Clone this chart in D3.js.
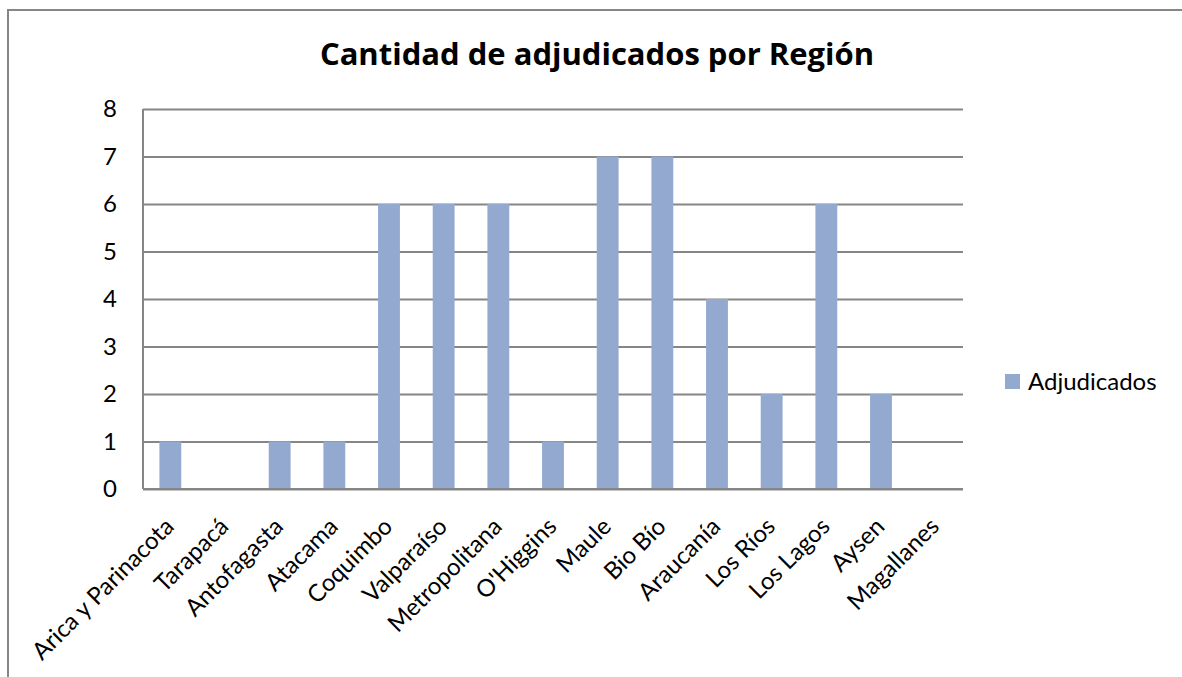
<!DOCTYPE html>
<html>
<head>
<meta charset="utf-8">
<script src="https://cdn.jsdelivr.net/npm/d3@7"></script>
<style>
  body { margin: 0; background: #fff; }
  svg { display: block; }
</style>
</head>
<body>
<div id="container"></div>
<script>
// regions and their counts
let regions = ["Arica y Parinacota", "Tarapacá", "Antofagasta", "Atacama", "Coquimbo",
  "Valparaíso", "Metropolitana", "O'Higgins", "Maule", "Bio Bío", "Araucanía",
  "Los Ríos", "Los Lagos", "Aysen", "Magallanes"];
let adjudicados = [1, 0, 1, 1, 6, 6, 6, 1, 7, 7, 4, 2, 6, 2, 0];
let yTicks = [0, 1, 2, 3, 4, 5, 6, 7, 8];
let seriesName = "Adjudicados";
let title = "Cantidad de adjudicados por Región";

let w = 1182;
let h = 677;
let plotLeft = 143, plotRight = 963, plotTop = 109, plotBottom = 489;
let grey = "#868686";
let font = "Lato, 'Open Sans', sans-serif";

let viz = d3.select("#container")
  .append("svg")
    .attr("width", w)
    .attr("height", h)
;

// outer chart frame (right and bottom edges run off the picture)
viz.append("rect")
  .attr("x", 8)
  .attr("y", 10)
  .attr("width", 1190)
  .attr("height", 720)
  .attr("fill", "none")
  .attr("stroke", grey)
  .attr("stroke-width", 2)
;

let data = regions.map(function(r, i){ return {region: r, value: adjudicados[i]}; });

let xScale = d3.scaleBand().domain(regions).range([plotLeft, plotRight]).paddingInner(0.6).paddingOuter(0.3);
let stepX = d3.scaleBand().domain(regions).range([plotLeft, plotRight]);
let yScale = d3.scaleLinear().domain([0, 8]).range([plotBottom, plotTop]);

// gridlines + y labels
let yAxis = d3.axisLeft(yScale).tickValues(yTicks).tickSize(-(plotRight - plotLeft)).tickPadding(26);
let yAxisGroup = viz.append("g")
  .attr("class", "yaxisgroup")
  .attr("transform", "translate(" + plotLeft + ",0)")
  .call(yAxis);
yAxisGroup.select(".domain").remove();
yAxisGroup.selectAll("line").attr("stroke", grey).attr("stroke-width", 2);
yAxisGroup.selectAll("text")
  .style("font-family", font)
  .style("font-size", "24px")
  .attr("fill", "#000");

// left axis line
viz.append("line")
  .attr("x1", plotLeft).attr("x2", plotLeft)
  .attr("y1", plotTop).attr("y2", plotBottom)
  .attr("stroke", grey).attr("stroke-width", 2);

// bars
viz.append("g").selectAll("rect").data(data).enter()
  .append("rect")
    .attr("x", function(d){ return xScale(d.region); })
    .attr("y", function(d){ return yScale(d.value); })
    .attr("width", xScale.bandwidth())
    .attr("height", function(d){ return plotBottom - yScale(d.value); })
    .attr("fill", "#94A9D0")
;

// bottom axis line
viz.append("line")
  .attr("x1", plotLeft).attr("x2", plotRight)
  .attr("y1", plotBottom).attr("y2", plotBottom)
  .attr("stroke", grey).attr("stroke-width", 2);

// rotated category labels
viz.append("g").selectAll("text").data(regions).enter()
  .append("text")
    .attr("transform", function(d){
      let cx = stepX(d) + stepX.bandwidth() / 2;
      return "translate(" + (cx + 5) + "," + (plotBottom + 39) + ") rotate(-45)";
    })
    .attr("text-anchor", "end")
    .style("font-family", font)
    .style("font-size", "24px")
    .attr("fill", "#000")
    .text(function(d){ return d; })
;

// title
viz.append("text")
  .attr("x", 597)
  .attr("y", 65)
  .attr("text-anchor", "middle")
  .style("font-family", "'Open Sans', sans-serif")
  .style("font-size", "31px")
  .style("font-weight", "bold")
  .attr("fill", "#000")
  .text(title);

// legend
viz.append("rect")
  .attr("x", 1005).attr("y", 374)
  .attr("width", 15).attr("height", 15)
  .attr("fill", "#94A9D0");
viz.append("text")
  .attr("x", 1028)
  .attr("y", 389.5)
  .style("font-family", font)
  .style("font-size", "24px")
  .attr("fill", "#000")
  .text(seriesName);
</script>
</body>
</html>
